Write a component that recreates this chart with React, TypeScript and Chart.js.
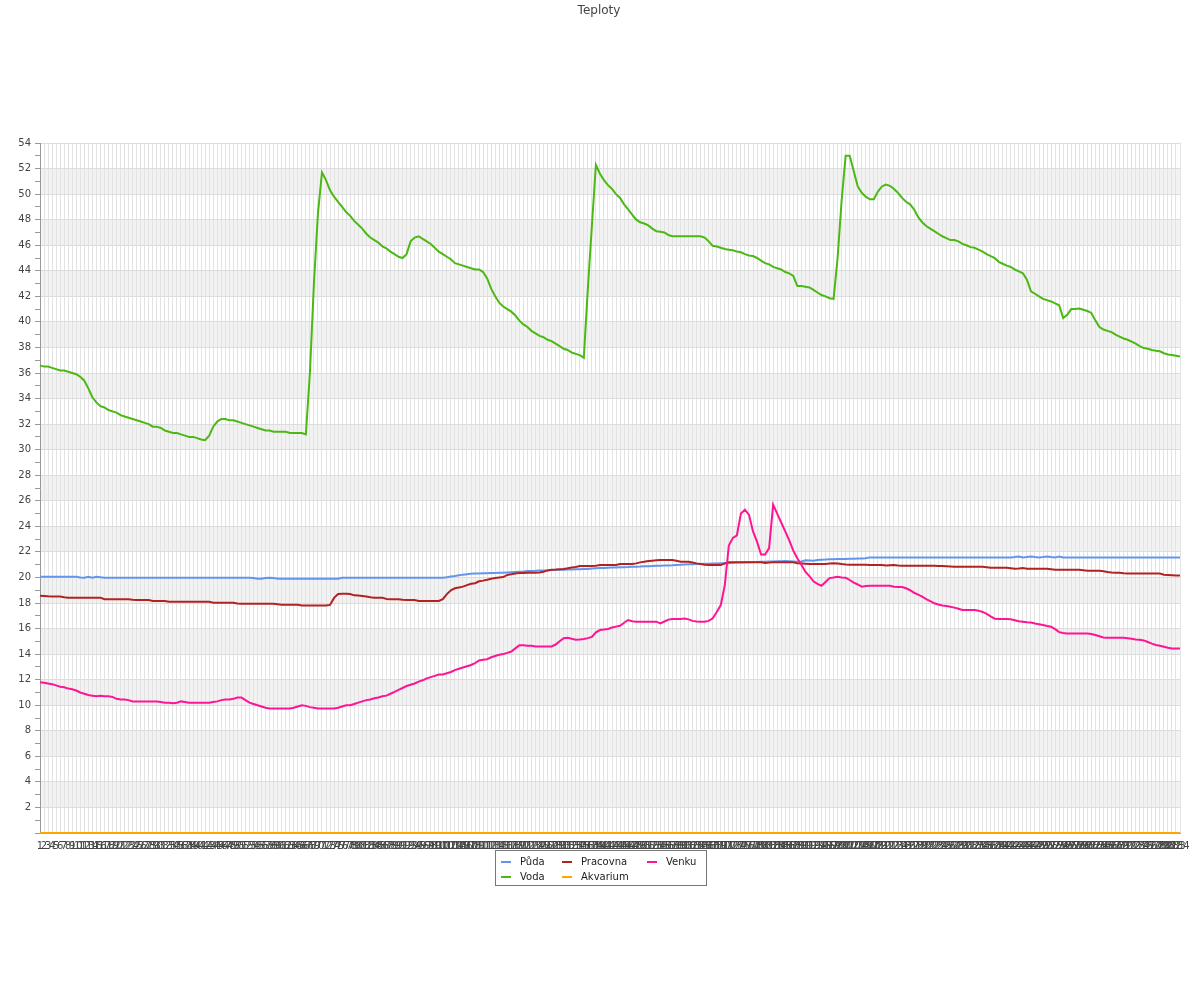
import React, { useEffect, useRef } from 'react';
import { Chart, registerables } from 'chart.js';

Chart.register(...registerables);

const titleText = 'Teploty';

const labels: string[] = Array.from({ length: 284 }, (_, i) => String(i + 1));

const seriesNames = ['Půda', 'Voda', 'Pracovna', 'Akvarium', 'Venku'];
const seriesColors = ['#6495ED', '#4CB814', '#B22222', '#FFA500', '#FF1493'];

const puda = [
  20.05, 20.05, 20.05, 20.05, 20.05, 20.05, 20.05, 20.05, 20.05, 20.05,
  20.0, 19.98, 20.05, 19.98, 20.05, 20.02, 19.98, 19.98, 19.98, 19.98,
  19.98, 19.98, 19.98, 19.98, 19.98, 19.98, 19.98, 19.98, 19.98, 19.98,
  19.98, 19.98, 19.98, 19.98, 19.98, 19.98, 19.98, 19.98, 19.98, 19.98,
  19.98, 19.98, 19.98, 19.98, 19.98, 19.98, 19.98, 19.98, 19.98, 19.98,
  19.98, 19.98, 19.98, 19.95, 19.9, 19.9, 19.95, 19.98, 19.95, 19.9,
  19.9, 19.9, 19.9, 19.9, 19.9, 19.9, 19.9, 19.9, 19.9, 19.9,
  19.9, 19.9, 19.9, 19.9, 19.9, 19.98, 19.98, 19.98, 19.98, 19.98,
  19.98, 19.98, 19.98, 19.98, 19.98, 19.98, 19.98, 19.98, 19.98, 19.98,
  19.98, 19.98, 19.98, 19.98, 19.98, 19.98, 19.98, 19.98, 19.98, 19.98,
  19.98, 20.02, 20.08, 20.12, 20.17, 20.22, 20.25, 20.28, 20.3, 20.31,
  20.32, 20.33, 20.34, 20.35, 20.36, 20.37, 20.39, 20.41, 20.43, 20.45,
  20.47, 20.5, 20.51, 20.52, 20.54, 20.55, 20.56, 20.58, 20.59, 20.6,
  20.61, 20.62, 20.63, 20.64, 20.65, 20.66, 20.67, 20.7, 20.72, 20.73,
  20.74, 20.76, 20.77, 20.78, 20.79, 20.8, 20.81, 20.83, 20.84, 20.85,
  20.87, 20.88, 20.9, 20.91, 20.92, 20.93, 20.94, 20.95, 20.97, 20.99,
  21.02, 21.03, 21.04, 21.05, 21.06, 21.07, 21.08, 21.09, 21.1, 21.11,
  21.12, 21.13, 21.15, 21.16, 21.17, 21.18, 21.19, 21.2, 21.21, 21.22,
  21.23, 21.24, 21.25, 21.26, 21.27, 21.29, 21.27, 21.25, 21.23, 21.25,
  21.34, 21.33, 21.31, 21.36, 21.39, 21.4, 21.42, 21.43, 21.44, 21.44,
  21.45, 21.46, 21.47, 21.48, 21.49, 21.5, 21.57, 21.57, 21.57, 21.57,
  21.57, 21.57, 21.57, 21.57, 21.57, 21.57, 21.57, 21.57, 21.57, 21.57,
  21.57, 21.57, 21.57, 21.57, 21.57, 21.57, 21.57, 21.57, 21.57, 21.57,
  21.57, 21.57, 21.57, 21.57, 21.57, 21.57, 21.57, 21.57, 21.57, 21.57,
  21.57, 21.57, 21.6, 21.64, 21.57, 21.6, 21.64, 21.6, 21.57, 21.6,
  21.64, 21.6, 21.57, 21.64, 21.57, 21.57, 21.57, 21.57, 21.57, 21.57,
  21.57, 21.57, 21.57, 21.57, 21.57, 21.57, 21.57, 21.57, 21.57, 21.57,
  21.57, 21.57, 21.57, 21.57, 21.57, 21.57, 21.57, 21.57, 21.57, 21.57,
  21.57, 21.57, 21.57, 21.57,
];

const voda = [
  36.6, 36.5, 36.5, 36.4, 36.3, 36.2, 36.2, 36.1, 36.0, 35.9,
  35.7, 35.4, 34.8, 34.1, 33.7, 33.4, 33.3, 33.1, 33.0, 32.9,
  32.7, 32.6, 32.5, 32.4, 32.3, 32.2, 32.1, 32.0, 31.8, 31.8,
  31.7, 31.5, 31.4, 31.3, 31.3, 31.2, 31.1, 31.0, 31.0, 30.9,
  30.8, 30.75, 31.1, 31.8, 32.2, 32.4, 32.4, 32.3, 32.3, 32.2,
  32.1, 32.0, 31.9, 31.8, 31.7, 31.6, 31.5, 31.5, 31.4, 31.4,
  31.4, 31.4, 31.3, 31.3, 31.3, 31.3, 31.2, 36.0, 43.0, 48.5,
  51.7, 51.1, 50.3, 49.8, 49.4, 49.0, 48.6, 48.3, 47.9, 47.6,
  47.3, 46.9, 46.6, 46.4, 46.2, 45.9, 45.75, 45.5, 45.3, 45.1,
  45.0, 45.3, 46.3, 46.6, 46.7, 46.5, 46.3, 46.1, 45.8, 45.5,
  45.3, 45.1, 44.9, 44.6, 44.5, 44.4, 44.3, 44.2, 44.1, 44.1,
  43.9, 43.4, 42.6, 42.0, 41.5, 41.2, 41.0, 40.8, 40.5, 40.1,
  39.8, 39.6, 39.3, 39.1, 38.9, 38.8, 38.6, 38.5, 38.3, 38.1,
  37.9, 37.8, 37.6, 37.5, 37.4, 37.2, 42.6, 47.5, 52.3, 51.6,
  51.1, 50.7, 50.4, 50.0, 49.7, 49.2, 48.8, 48.4, 48.0, 47.8,
  47.7, 47.55, 47.3, 47.1, 47.06, 47.0, 46.8, 46.7, 46.7, 46.7,
  46.7, 46.7, 46.7, 46.7, 46.7, 46.6, 46.3, 45.95, 45.9, 45.8,
  45.7, 45.65, 45.6, 45.5, 45.45, 45.3, 45.2, 45.15, 45.0, 44.8,
  44.6, 44.5, 44.3, 44.2, 44.1, 43.9, 43.8, 43.6, 42.8, 42.8,
  42.75, 42.7, 42.5, 42.3, 42.1, 42.0, 41.85, 41.8, 45.0, 49.5,
  53.0, 53.0, 51.8, 50.6, 50.1, 49.8, 49.6, 49.6, 50.2, 50.6,
  50.75, 50.65, 50.4, 50.1, 49.7, 49.4, 49.2, 48.8, 48.2, 47.8,
  47.5, 47.3, 47.1, 46.9, 46.7, 46.55, 46.4, 46.4, 46.3, 46.1,
  46.0, 45.85, 45.8, 45.65, 45.5, 45.3, 45.15, 45.0, 44.7, 44.55,
  44.4, 44.3, 44.1, 43.95, 43.8, 43.3, 42.4, 42.2, 42.0, 41.8,
  41.7, 41.6, 41.45, 41.3, 40.3, 40.55, 41.0, 41.0, 41.05, 40.95,
  40.85, 40.7, 40.1, 39.6, 39.4, 39.3, 39.2, 39.0, 38.85, 38.7,
  38.6, 38.45, 38.3, 38.1, 37.95, 37.9, 37.8, 37.75, 37.7, 37.55,
  37.45, 37.4, 37.35, 37.3,
];

const pracovna = [
  18.57, 18.55, 18.52, 18.5, 18.5, 18.5, 18.45, 18.42, 18.42, 18.42,
  18.42, 18.42, 18.42, 18.42, 18.42, 18.42, 18.3, 18.3, 18.3, 18.3,
  18.3, 18.3, 18.3, 18.26, 18.23, 18.23, 18.23, 18.23, 18.16, 18.16,
  18.16, 18.16, 18.1, 18.1, 18.1, 18.1, 18.1, 18.1, 18.1, 18.1,
  18.1, 18.1, 18.1, 18.02, 18.02, 18.02, 18.02, 18.02, 18.02, 17.96,
  17.94, 17.94, 17.94, 17.94, 17.94, 17.94, 17.94, 17.94, 17.94, 17.9,
  17.86, 17.86, 17.86, 17.86, 17.86, 17.8, 17.8, 17.8, 17.8, 17.8,
  17.8, 17.8, 17.85, 18.4, 18.7, 18.72, 18.72, 18.7, 18.6, 18.58,
  18.55, 18.5, 18.45, 18.42, 18.42, 18.42, 18.32, 18.3, 18.3, 18.3,
  18.25, 18.23, 18.23, 18.23, 18.16, 18.16, 18.16, 18.16, 18.16, 18.16,
  18.3, 18.7, 19.0, 19.15, 19.22, 19.28, 19.4, 19.5, 19.55, 19.7,
  19.75, 19.82, 19.9, 19.95, 20.0, 20.03, 20.2, 20.25, 20.3, 20.35,
  20.35, 20.36, 20.37, 20.37, 20.38, 20.45, 20.55, 20.6, 20.62, 20.65,
  20.67, 20.72, 20.78, 20.82, 20.9, 20.9, 20.9, 20.9, 20.92, 20.97,
  20.97, 20.97, 20.97, 20.97, 21.05, 21.05, 21.05, 21.05, 21.1, 21.18,
  21.23, 21.28, 21.31, 21.34, 21.36, 21.36, 21.36, 21.36, 21.3, 21.23,
  21.23, 21.23, 21.17, 21.1, 21.05, 21.0, 20.97, 20.97, 20.97, 20.97,
  21.1, 21.18, 21.18, 21.18, 21.18, 21.18, 21.18, 21.18, 21.18, 21.18,
  21.13, 21.16, 21.18, 21.18, 21.18, 21.18, 21.18, 21.18, 21.12, 21.1,
  21.08, 21.05, 21.05, 21.05, 21.05, 21.05, 21.1, 21.12, 21.1, 21.05,
  21.02, 21.0, 21.0, 21.0, 21.0, 21.0, 20.97, 20.97, 20.97, 20.97,
  20.93, 20.95, 20.97, 20.93, 20.92, 20.92, 20.92, 20.92, 20.92, 20.92,
  20.92, 20.92, 20.92, 20.9, 20.9, 20.88, 20.86, 20.84, 20.84, 20.84,
  20.84, 20.84, 20.84, 20.84, 20.84, 20.8, 20.76, 20.76, 20.76, 20.76,
  20.76, 20.72, 20.68, 20.7, 20.74, 20.68, 20.68, 20.68, 20.68, 20.68,
  20.68, 20.65, 20.6, 20.6, 20.6, 20.6, 20.6, 20.6, 20.6, 20.56,
  20.52, 20.52, 20.52, 20.52, 20.48, 20.42, 20.38, 20.36, 20.36, 20.33,
  20.31, 20.3, 20.3, 20.3, 20.3, 20.3, 20.3, 20.3, 20.3, 20.22,
  20.2, 20.18, 20.16, 20.15,
];

const akvarium = [
  0, 0, 0, 0, 0, 0, 0, 0, 0, 0,
  0, 0, 0, 0, 0, 0, 0, 0, 0, 0,
  0, 0, 0, 0, 0, 0, 0, 0, 0, 0,
  0, 0, 0, 0, 0, 0, 0, 0, 0, 0,
  0, 0, 0, 0, 0, 0, 0, 0, 0, 0,
  0, 0, 0, 0, 0, 0, 0, 0, 0, 0,
  0, 0, 0, 0, 0, 0, 0, 0, 0, 0,
  0, 0, 0, 0, 0, 0, 0, 0, 0, 0,
  0, 0, 0, 0, 0, 0, 0, 0, 0, 0,
  0, 0, 0, 0, 0, 0, 0, 0, 0, 0,
  0, 0, 0, 0, 0, 0, 0, 0, 0, 0,
  0, 0, 0, 0, 0, 0, 0, 0, 0, 0,
  0, 0, 0, 0, 0, 0, 0, 0, 0, 0,
  0, 0, 0, 0, 0, 0, 0, 0, 0, 0,
  0, 0, 0, 0, 0, 0, 0, 0, 0, 0,
  0, 0, 0, 0, 0, 0, 0, 0, 0, 0,
  0, 0, 0, 0, 0, 0, 0, 0, 0, 0,
  0, 0, 0, 0, 0, 0, 0, 0, 0, 0,
  0, 0, 0, 0, 0, 0, 0, 0, 0, 0,
  0, 0, 0, 0, 0, 0, 0, 0, 0, 0,
  0, 0, 0, 0, 0, 0, 0, 0, 0, 0,
  0, 0, 0, 0, 0, 0, 0, 0, 0, 0,
  0, 0, 0, 0, 0, 0, 0, 0, 0, 0,
  0, 0, 0, 0, 0, 0, 0, 0, 0, 0,
  0, 0, 0, 0, 0, 0, 0, 0, 0, 0,
  0, 0, 0, 0, 0, 0, 0, 0, 0, 0,
  0, 0, 0, 0, 0, 0, 0, 0, 0, 0,
  0, 0, 0, 0, 0, 0, 0, 0, 0, 0,
  0, 0, 0, 0,
];

const venku = [
  11.8, 11.75, 11.7, 11.65, 11.55, 11.45, 11.4, 11.3, 11.25, 11.15,
  11.0, 10.9, 10.8, 10.75, 10.7, 10.75, 10.7, 10.7, 10.65, 10.5,
  10.45, 10.45, 10.4, 10.3, 10.3, 10.3, 10.3, 10.3, 10.3, 10.3,
  10.25, 10.2, 10.2, 10.15, 10.2, 10.3, 10.25, 10.2, 10.2, 10.2,
  10.2, 10.2, 10.2, 10.25, 10.3, 10.4, 10.45, 10.45, 10.5, 10.6,
  10.6, 10.4, 10.2, 10.1, 10.0, 9.9, 9.8, 9.75, 9.75, 9.75,
  9.75, 9.75, 9.75, 9.8, 9.9, 10.0, 9.95, 9.85, 9.8, 9.75,
  9.75, 9.75, 9.75, 9.75, 9.8, 9.9, 10.0, 10.0, 10.1, 10.2,
  10.3, 10.4, 10.45, 10.55, 10.6, 10.7, 10.75, 10.9, 11.05, 11.2,
  11.35, 11.5, 11.6, 11.7, 11.85, 11.95, 12.1, 12.2, 12.3, 12.4,
  12.4, 12.5, 12.6, 12.75, 12.85, 12.95, 13.05, 13.15, 13.3, 13.5,
  13.55, 13.6, 13.75, 13.85, 13.95, 14.0, 14.1, 14.2, 14.45, 14.7,
  14.7, 14.65, 14.65, 14.6, 14.6, 14.6, 14.6, 14.6, 14.75, 15.0,
  15.25, 15.28, 15.2, 15.13, 15.15, 15.18, 15.25, 15.35, 15.7, 15.88,
  15.92, 15.97, 16.08, 16.15, 16.22, 16.45, 16.67, 16.58, 16.54, 16.54,
  16.54, 16.54, 16.54, 16.54, 16.4, 16.55, 16.7, 16.75, 16.75, 16.75,
  16.78, 16.72, 16.6, 16.55, 16.54, 16.54, 16.6, 16.8, 17.3, 17.84,
  19.4, 22.5, 23.1, 23.3, 25.0, 25.3, 24.9, 23.6, 22.8, 21.8,
  21.8, 22.3, 25.7, 25.0, 24.3, 23.6, 22.9, 22.1, 21.5, 21.0,
  20.45, 20.1, 19.7, 19.5, 19.35, 19.65, 19.95, 20.0, 20.06, 20.0,
  19.98, 19.8, 19.6, 19.45, 19.28, 19.33, 19.35, 19.35, 19.35, 19.35,
  19.35, 19.35, 19.27, 19.25, 19.25, 19.15, 19.0, 18.8, 18.65, 18.5,
  18.3, 18.15, 17.98, 17.88, 17.8, 17.76, 17.7, 17.64, 17.55, 17.45,
  17.45, 17.45, 17.45, 17.4, 17.3, 17.15, 16.95, 16.77, 16.75, 16.75,
  16.75, 16.72, 16.65, 16.58, 16.54, 16.5, 16.47, 16.4, 16.34, 16.28,
  16.2, 16.15, 15.95, 15.72, 15.65, 15.62, 15.62, 15.62, 15.62, 15.62,
  15.62, 15.58, 15.5, 15.4, 15.3, 15.28, 15.28, 15.28, 15.28, 15.28,
  15.24, 15.2, 15.15, 15.12, 15.07, 14.95, 14.82, 14.72, 14.65, 14.58,
  14.5, 14.44, 14.44, 14.44,
];

const seriesData = [puda, voda, pracovna, akvarium, venku];
// legend slot [column, row] for each series, as in the reference legend
const legendSlots = [[0, 0], [0, 1], [1, 0], [1, 1], [2, 0]];
// drawing order: lower order is drawn on top
const drawOrder = [5, 4, 3, 2, 1];

const FONT = 'DejaVu Sans';

const bandsPlugin = {
  id: 'bands',
  beforeDraw(chart: any) {
    const { ctx, chartArea, scales } = chart;
    const y = scales.y;
    ctx.save();
    ctx.fillStyle = '#f2f2f2';
    for (let v = 2; v < 54; v += 4) {
      const top = y.getPixelForValue(v + 2);
      const bottom = y.getPixelForValue(v);
      ctx.fillRect(chartArea.left, top, chartArea.right - chartArea.left, bottom - top);
    }
    ctx.restore();
  },
};

const titleLegendPlugin = {
  id: 'titleLegend',
  afterDraw(chart: any) {
    const { ctx } = chart;
    ctx.save();
    // title
    ctx.font = `12px "${FONT}"`;
    ctx.fillStyle = '#444';
    ctx.textAlign = 'center';
    ctx.textBaseline = 'middle';
    ctx.fillText(titleText, 599, 11);

    // legend box
    const bx = 495.5, by = 850.5, bw = 211, bh = 35;
    ctx.fillStyle = '#ffffff';
    ctx.fillRect(bx, by, bw, bh);
    ctx.strokeStyle = '#777';
    ctx.lineWidth = 1;
    ctx.strokeRect(bx, by, bw, bh);
    const colX = [501, 562, 647];
    const rowY = [862, 877];
    ctx.font = `10px "${FONT}"`;
    ctx.textAlign = 'left';
    ctx.textBaseline = 'middle';
    chart.data.datasets.forEach((ds: any, i: number) => {
      const [c, r] = legendSlots[i];
      const x = colX[c];
      const y = rowY[r];
      ctx.strokeStyle = ds.borderColor;
      ctx.lineWidth = 2;
      ctx.beginPath();
      ctx.moveTo(x, y);
      ctx.lineTo(x + 10, y);
      ctx.stroke();
      ctx.fillStyle = '#222';
      ctx.fillText(ds.label, x + 19, y + 0.5);
    });
    ctx.restore();
  },
};

export default function App() {
  const canvasRef = useRef<HTMLCanvasElement>(null);

  useEffect(() => {
    document.body.style.margin = '0';
    const canvas = canvasRef.current;
    if (!canvas) return;
    Chart.defaults.font.family = FONT;
    const chart = new Chart(canvas, {
      type: 'line',
      data: {
        labels,
        datasets: seriesNames.map((name, i) => ({
          label: name,
          data: seriesData[i],
          borderColor: seriesColors[i],
          backgroundColor: seriesColors[i],
          borderWidth: 2,
          pointRadius: 0,
          pointHoverRadius: 0,
          tension: 0,
          fill: false,
          clip: false as any,
          order: drawOrder[i],
        })),
      },
      options: {
        responsive: false,
        animation: false,
        events: [],
        layout: { padding: { top: 143, right: 20, left: 0, bottom: 0 } },
        plugins: {
          legend: { display: false },
          title: { display: false },
          tooltip: { enabled: false },
        },
        scales: {
          x: {
            type: 'category',
            offset: false,
            grid: { color: '#e3e3e3', drawTicks: false, lineWidth: 1 },
            border: { color: '#999', width: 1 },
            ticks: {
              autoSkip: false,
              maxRotation: 0,
              minRotation: 0,
              color: '#444',
              font: { family: FONT, size: 10 },
              padding: 7,
            },
            afterFit: (s: any) => {
              s.height = 167;
            },
          },
          y: {
            min: 0,
            max: 54,
            ticks: {
              stepSize: 1,
              autoSkip: false,
              color: '#444',
              font: { family: FONT, size: 10 },
              padding: 4,
              callback: (v: any) => (Number(v) % 2 === 0 && Number(v) !== 0 ? String(v) : ''),
            },
            grid: {
              color: (c: any) => (c.tick && Number(c.tick.value) % 2 === 0 ? '#dcdcdc' : 'rgba(0,0,0,0)'),
              tickColor: '#999',
              tickLength: 5,
              lineWidth: 1,
            },
            border: { color: '#999', width: 1 },
            afterFit: (s: any) => {
              s.width = 40;
            },
          },
        },
      },
      plugins: [bandsPlugin, titleLegendPlugin],
    } as any);
    return () => chart.destroy();
  }, []);

  return (
    <div style={{ width: 1200, height: 1000 }}>
      <canvas ref={canvasRef} width={1200} height={1000} style={{ display: 'block' }} />
    </div>
  );
}
